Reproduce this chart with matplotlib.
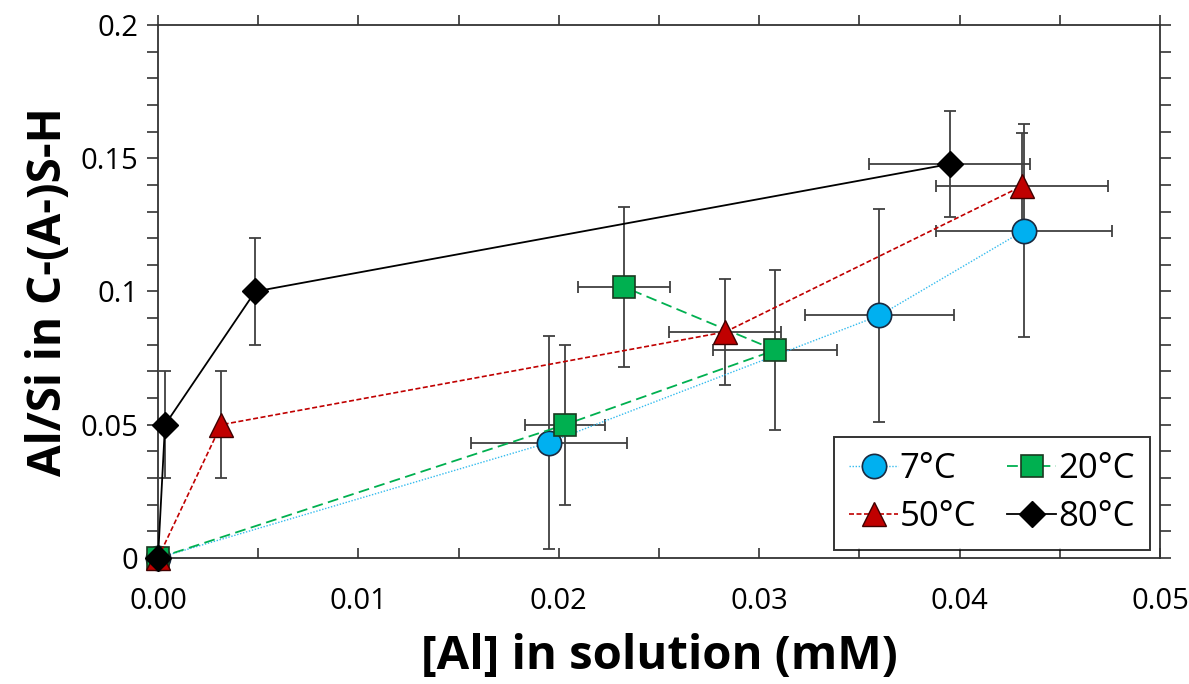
import numpy as np
import matplotlib.pyplot as plt
from matplotlib.ticker import MultipleLocator, FuncFormatter

plt.rcParams['font.family'] = ['Open Sans', 'DejaVu Sans']

# data: x = [Al] in solution (mM), y = Al/Si in C-(A-)S-H
labels = ['7°C', '20°C', '50°C', '80°C']

x_7 = [0.0, 0.0195, 0.0360, 0.0432]
y_7 = [0.0, 0.0433, 0.0910, 0.1228]
xerr_7 = [0.0, 0.0039, 0.0037, 0.0044]
yerr_7 = [0.0, 0.040, 0.040, 0.040]

# points in the order they are joined in the original
x_20 = [0.0, 0.0203, 0.0308, 0.02325]
y_20 = [0.0, 0.0500, 0.0780, 0.1017]
xerr_20 = [0.0, 0.0020, 0.0031, 0.0023]
yerr_20 = [0.0, 0.030, 0.030, 0.030]

x_50 = [0.0, 0.00315, 0.0283, 0.0431]
y_50 = [0.0, 0.0500, 0.0848, 0.1395]
xerr_50 = [0.0, 0.0, 0.0028, 0.0043]
yerr_50 = [0.0, 0.020, 0.020, 0.020]

x_80 = [0.0, 0.00035, 0.00485, 0.0395]
y_80 = [0.0, 0.0500, 0.1000, 0.1478]
xerr_80 = [0.0, 0.0, 0.0, 0.0040]
yerr_80 = [0.0, 0.020, 0.020, 0.020]

fig = plt.figure(figsize=(11.89, 6.84), dpi=100)
ax = fig.add_axes([0.1329, 0.1842, 0.8427, 0.7793])

series = [
    (x_7, y_7, xerr_7, yerr_7, dict(color='#33BBEE', ls=(0, (1, 1.2)), lw=1.0, marker='o', ms=17.5,
                                    mfc='#00B0F0', mec='#1a2a40', mew=1.2)),
    (x_20, y_20, xerr_20, yerr_20, dict(color='#00B050', ls=(0, (6, 3)), lw=1.3, marker='s', ms=15.5,
                                        mfc='#00B050', mec='#1a3a20', mew=1.2)),
    (x_50, y_50, xerr_50, yerr_50, dict(color='#C00000', ls=(0, (3, 1.5)), lw=1.2, marker='^', ms=17.5,
                                        mfc='#C00000', mec='#400000', mew=1.0)),
    (x_80, y_80, xerr_80, yerr_80, dict(color='black', ls='-', lw=1.3, marker='D', ms=13.5,
                                        mfc='black', mec='black', mew=1.0)),
]

# error bars first, underneath the markers
for x, y, xe, ye, st in series:
    ax.errorbar(x, y, xerr=xe, yerr=ye, fmt='none', ecolor='#404040', elinewidth=1.3,
                capsize=4, capthick=1.3, zorder=2)

handles = []
for i, (x, y, xe, ye, st) in enumerate(series):
    h, = ax.plot(x, y, label=labels[i], zorder=3 + i, clip_on=False, **st)
    handles.append(h)

ax.set_xlim(0, 0.05)
ax.set_ylim(0, 0.2)

ax.xaxis.set_major_locator(MultipleLocator(0.01))
ax.xaxis.set_minor_locator(MultipleLocator(0.005))
ax.xaxis.set_major_formatter(FuncFormatter(lambda v, p: f'{v:.2f}'))
ax.yaxis.set_major_locator(MultipleLocator(0.05))
ax.yaxis.set_minor_locator(MultipleLocator(0.01))
ax.yaxis.set_major_formatter(FuncFormatter(lambda v, p: f'{v:g}'))

ax.tick_params(axis='x', which='both', direction='in', length=7, width=1.2, labelsize=21,
               pad=21, colors='#333333', labelcolor='black')
ax.tick_params(axis='y', which='both', direction='out', length=8, width=1.2, labelsize=21,
               pad=6, right=True, colors='#333333', labelcolor='black')

top = ax.secondary_xaxis('top')
top.xaxis.set_major_locator(MultipleLocator(0.005))
top.tick_params(axis='x', direction='out', length=7, width=1.2, labeltop=False, colors='#333333')
top.spines['top'].set_visible(False)

for s in ax.spines.values():
    s.set_linewidth(1.3)
    s.set_color('#333333')

ax.set_xlabel('[Al] in solution (mM)', fontsize=34, fontweight='bold', labelpad=12)
ax.set_ylabel('Al/Si in C-(A-)S-H', fontsize=33, fontweight='bold', labelpad=6)

# legend is filled column by column, so reorder for rows 7/20 and 50/80
order = [0, 2, 1, 3]
leg = ax.legend([handles[i] for i in order], [labels[i] for i in order], ncol=2,
                loc='lower right', bbox_to_anchor=(0.99, 0.015), borderaxespad=0,
                fontsize=25, frameon=True, fancybox=False, edgecolor='black',
                handlelength=1.4, handletextpad=0.05, columnspacing=0.9, borderpad=0.45,
                labelspacing=0.4)
leg.get_frame().set_linewidth(1.4)

fig.savefig('out.png', dpi=100)
